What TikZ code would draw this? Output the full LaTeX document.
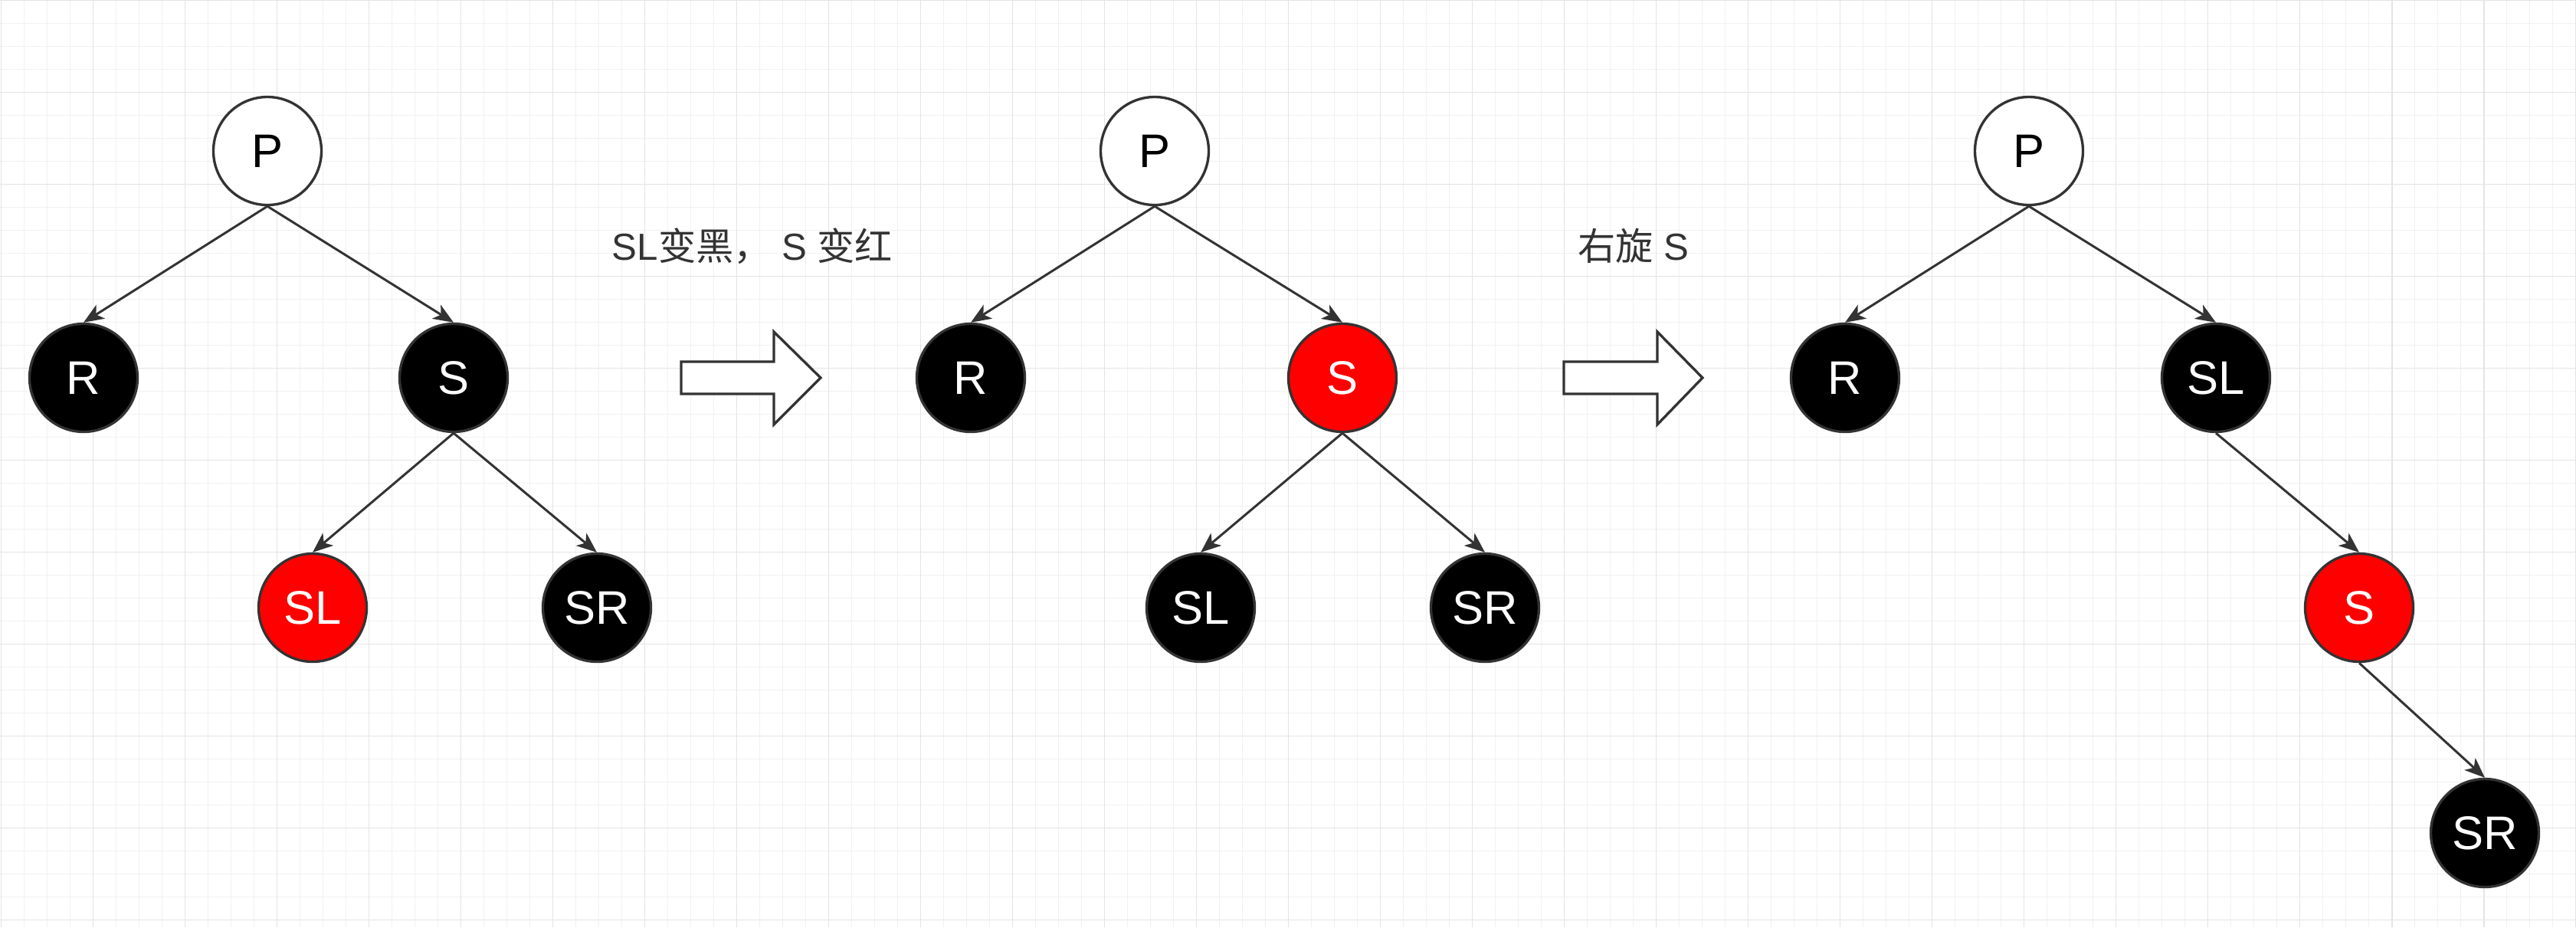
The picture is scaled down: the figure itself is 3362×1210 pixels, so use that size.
\documentclass[tikz,border=0pt]{standalone}
\usepackage{fontspec}
\setmainfont{Liberation Sans}
\newfontfamily\cjk{Noto Sans CJK SC}
\usetikzlibrary{arrows.meta}
\pgfdeclarelayer{gridlayer}
\pgfsetlayers{gridlayer,main}
\definecolor{edgegray}{HTML}{333333}
\definecolor{gridminor}{HTML}{F1F1F1}
\definecolor{gridmajor}{HTML}{E4E4E4}
\definecolor{rbred}{HTML}{FF0000}

\begin{document}
\begin{tikzpicture}[x=0.1mm,y=-0.1mm,
  rb/.style={circle,draw=edgegray,line width=0.95pt,minimum size=14.1mm,inner sep=0pt,font=\fontsize{17.5}{20}\selectfont},
  wn/.style={rb,fill=white,text=black},
  bn/.style={rb,fill=black,text=white},
  rn/.style={rb,fill=rbred,text=white},
  lnk/.style={draw=edgegray,line width=0.85pt,-{Stealth[length=7.5pt,width=6pt,inset=2pt]}},
  bigarrow/.style={draw=edgegray,fill=white,line width=0.95pt,line join=miter},
  lbl/.style={text=edgegray,font=\fontsize{14}{16}\selectfont}]
\useasboundingbox (0,0) rectangle (3362,1210);
\begin{pgfonlayer}{gridlayer}
\fill[white] (0,0) rectangle (3362,1210);
\foreach \i in {0,...,112} \draw[gridminor,line width=0.4pt] ({1.5+30*\i},0) -- ({1.5+30*\i},1210);
\foreach \j in {0,...,40} \draw[gridminor,line width=0.4pt] (0,{0.5+30*\j}) -- (3362,{0.5+30*\j});
\foreach \i in {0,...,28} \draw[gridmajor,line width=0.55pt] ({1.5+120*\i},0) -- ({1.5+120*\i},1210);
\foreach \j in {0,...,10} \draw[gridmajor,line width=0.55pt] (0,{0.5+120*\j}) -- (3362,{0.5+120*\j});
\end{pgfonlayer}
% first tree
\node[wn] (p1) at (349,197) {P};
\node[bn] (r1) at (109,493) {R};
\node[bn] (s1) at (592,493) {S};
\node[rn] (sl1) at (408,793) {SL};
\node[bn] (sr1) at (779,793) {SR};
\draw[lnk] (p1.south) -- (r1.north);
\draw[lnk] (p1.south) -- (s1.north);
\draw[lnk] (s1.south) -- (sl1.north);
\draw[lnk] (s1.south) -- (sr1.north);
% recolour
\node[lbl] (t1) at (982,321) {SL{\cjk 变黑，} S {\cjk 变红}};
\draw[bigarrow] (889,472) -- (1010,472) -- (1010,433) -- (1071,493) -- (1010,554) -- (1010,514) -- (889,514) -- cycle;
% second tree
\node[wn] (p2) at (1507,197) {P};
\node[bn] (r2) at (1267,493) {R};
\node[rn] (s2) at (1752,493) {S};
\node[bn] (sl2) at (1567,793) {SL};
\node[bn] (sr2) at (1938,793) {SR};
\draw[lnk] (p2.south) -- (r2.north);
\draw[lnk] (p2.south) -- (s2.north);
\draw[lnk] (s2.south) -- (sl2.north);
\draw[lnk] (s2.south) -- (sr2.north);
% rotate
\node[lbl] (t2) at (2132,321) {{\cjk 右旋} S};
\draw[bigarrow] (2041,472) -- (2163,472) -- (2163,433) -- (2222,493) -- (2163,554) -- (2163,514) -- (2041,514) -- cycle;
% third tree
\node[wn] (p3) at (2648,197) {P};
\node[bn] (r3) at (2408,493) {R};
\node[bn] (sl3) at (2892,493) {SL};
\node[rn] (s3) at (3079,793) {S};
\node[bn] (sr3) at (3243,1087) {SR};
\draw[lnk] (p3.south) -- (r3.north);
\draw[lnk] (p3.south) -- (sl3.north);
\draw[lnk] (sl3.south) -- (s3.north);
\draw[lnk] (s3.south) -- (sr3.north);
\end{tikzpicture}
\end{document}
